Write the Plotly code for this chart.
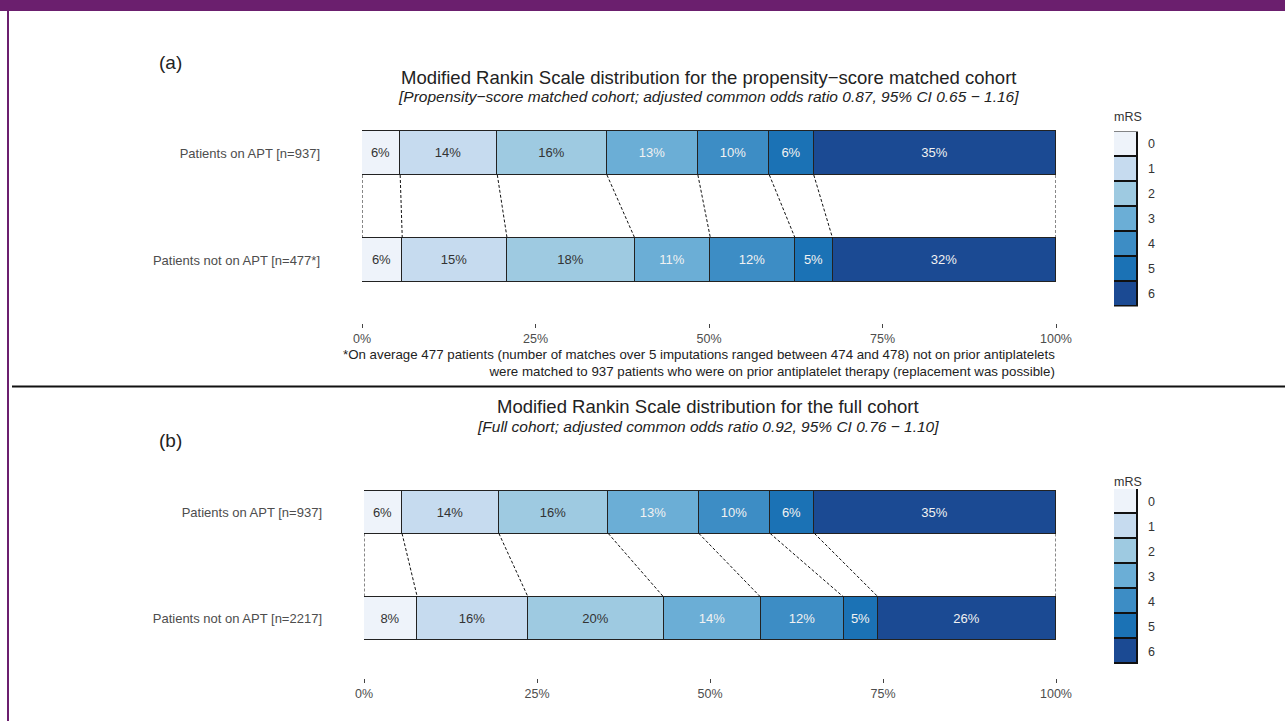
import plotly.graph_objects as go

# ---------------- data ----------------
mrs_levels = ["0", "1", "2", "3", "4", "5", "6"]
colors = ["#EEF3FA", "#C6DBEF", "#9ECAE1", "#6BAED6", "#3D8DC5", "#1B72B5", "#1B4A93"]
text_colors = ["#333333", "#333333", "#333333", "#F2F2F2", "#F2F2F2", "#F2F2F2", "#F2F2F2"]

# panel (a): propensity-score matched cohort (percent per mRS level)
a_on_apt = [5.5, 14.0, 15.8, 13.1, 10.3, 6.4, 34.9]
a_not_apt = [5.8, 15.1, 18.4, 10.9, 12.2, 5.4, 32.2]
a_labels = ["Patients on APT [n=937]", "Patients not on APT [n=477*]"]

# panel (b): full cohort
b_on_apt = [5.5, 14.0, 15.8, 13.1, 10.3, 6.4, 34.9]
b_not_apt = [7.7, 16.0, 19.6, 14.0, 12.0, 5.0, 25.7]
b_labels = ["Patients on APT [n=937]", "Patients not on APT [n=2217]"]

x_tickvals = [0, 25, 50, 75, 100]
x_ticktext = ["0%", "25%", "50%", "75%", "100%"]

title_a = "Modified Rankin Scale distribution for the propensity\u2212score matched cohort"
sub_a = "[Propensity\u2212score matched cohort; adjusted common odds ratio 0.87, 95% CI 0.65 \u2212 1.16]"
title_b = "Modified Rankin Scale distribution for the full cohort"
sub_b = "[Full cohort; adjusted common odds ratio 0.92, 95% CI 0.76 \u2212 1.10]"
footnote = ("*On average 477 patients (number of matches over 5 imputations ranged between 474 and 478) not on prior antiplatelets<br>"
            "were matched to 937 patients who were on prior antiplatelet therapy (replacement was possible)")

# ---------------- layout helpers ----------------
W, H = 1285, 721
FONT = "Liberation Sans, Arial, Helvetica, sans-serif"


def fx(px):
    return px / W


def fy(py):
    return 1 - py / H


fig = go.Figure()


def add_panel(top_vals, bot_vals, xa, ya, bar_w):
    for k in range(len(mrs_levels)):
        tv, bv = top_vals[k], bot_vals[k]
        fig.add_trace(go.Bar(
            x=[tv, bv], y=[1, 0], orientation="h", width=bar_w,
            xaxis=xa, yaxis=ya,
            marker=dict(color=colors[k], line=dict(color="#222222", width=1)),
            text=[f"{int(tv + 0.5)}%", f"{int(bv + 0.5)}%"],
            textposition="inside", insidetextanchor="middle",
            textfont=dict(color=text_colors[k], size=13, family=FONT),
            constraintext="none",
            showlegend=False, hoverinfo="skip",
        ))
    # connector lines between cumulative boundaries
    cx, cy = [], []
    ct, cb = 0.0, 0.0
    bounds_t, bounds_b = [0.0], [0.0]
    for k in range(len(mrs_levels)):
        ct += top_vals[k]
        cb += bot_vals[k]
        bounds_t.append(ct)
        bounds_b.append(cb)
    for t, b in zip(bounds_t, bounds_b):
        cx += [t, b, None]
        cy += [1 - bar_w / 2, bar_w / 2, None]
    fig.add_trace(go.Scatter(
        x=cx, y=cy, mode="lines", xaxis=xa, yaxis=ya,
        line=dict(color="#111111", width=1, dash="3px,2px"),
        showlegend=False, hoverinfo="skip",
    ))


def add_legend(xa, ya):
    for k in range(len(mrs_levels)):
        fig.add_trace(go.Bar(
            x=[0], y=[1], width=1, xaxis=xa, yaxis=ya,
            marker=dict(color=colors[k], line=dict(color="#111111", width=1.6)),
            showlegend=False, hoverinfo="skip",
        ))


add_panel(a_on_apt, a_not_apt, "x", "y", 44 / 107)
add_panel(b_on_apt, b_not_apt, "x2", "y2", 43 / 106.5)
add_legend("x3", "y3")
add_legend("x4", "y4")

xaxis_common = dict(
    range=[0, 100], tickvals=x_tickvals, ticktext=x_ticktext,
    ticks="outside", ticklen=4, tickcolor="#444444", tickwidth=1,
    tickfont=dict(size=12.5, color="#4D4D4D", family=FONT),
    showgrid=False, zeroline=False, showline=False, fixedrange=True, automargin=False,
)
yaxis_common = dict(
    tickvals=[1, 0], ticks="", showgrid=False, zeroline=False, showline=False,
    tickfont=dict(size=13, color="#4D4D4D", family=FONT), ticklabelstandoff=41,
    automargin=False,
)
leg_x = dict(range=[-0.5, 0.5], showticklabels=False, showgrid=False, zeroline=False,
             showline=False, ticks="", automargin=False)
leg_y = dict(range=[7, 0], tickvals=[0.5 + i for i in range(7)], ticktext=mrs_levels,
             side="right", ticks="", showgrid=False, zeroline=False, showline=False,
             tickfont=dict(size=12.5, color="#333333", family=FONT), ticklabelstandoff=9,
             automargin=False)

fig.update_layout(
    width=W, height=H, margin=dict(l=0, r=0, t=0, b=0, pad=0), autosize=False,
    paper_bgcolor="white", plot_bgcolor="white",
    barmode="stack", bargap=0,
    font=dict(family=FONT, color="#222222"),
    xaxis=dict(domain=[fx(362), fx(1056)], anchor="y", **xaxis_common),
    yaxis=dict(domain=[fy(323), fy(110)], anchor="x",
               range=[-(323 - 260) / 107, 1 + (153 - 110) / 107],
               ticktext=a_labels, **yaxis_common),
    xaxis2=dict(domain=[fx(364), fx(1056)], anchor="y2", **xaxis_common),
    yaxis2=dict(domain=[fy(678), fy(470)], anchor="x2",
                range=[-(678 - 618.5) / 106.5, 1 + (512 - 470) / 106.5],
                ticktext=b_labels, **yaxis_common),
    xaxis3=dict(domain=[fx(1114), fx(1138)], anchor="y3", **leg_x),
    yaxis3=dict(domain=[fy(306.5), fy(131.5)], anchor="x3", **leg_y),
    xaxis4=dict(domain=[fx(1114), fx(1138)], anchor="y4", **leg_x),
    yaxis4=dict(domain=[fy(664), fy(489)], anchor="x4", **leg_y),
)

ann = []


def text(px, py, s, size, xanchor="center", italic=False, color="#222222"):
    ann.append(dict(
        x=fx(px), y=fy(py), xref="paper", yref="paper", text=s, showarrow=False,
        xanchor=xanchor, yanchor="middle", align="right" if xanchor == "right" else "left",
        font=dict(size=size, color=color, family=FONT,
                  style="italic" if italic else "normal"),
    ))


text(170, 63, "(a)", 19)
text(708, 78, title_a, 18.5)
text(708, 97, sub_a, 15.5, italic=True)
text(1057, 363, footnote, 13.3, xanchor="right")
text(1112, 117, "mRS", 12.5, xanchor="left", color="#333333")

text(170, 441, "(b)", 19)
text(708, 406, title_b, 18.5)
text(708, 427, sub_b, 15.5, italic=True)
text(1112, 482, "mRS", 12.5, xanchor="left", color="#333333")

fig.update_layout(annotations=ann)

# frame decorations
fig.update_layout(shapes=[
    dict(type="rect", xref="paper", yref="paper", x0=0, x1=1, y0=fy(11), y1=1,
         fillcolor="#6B1F6E", line=dict(width=0)),
    dict(type="rect", xref="paper", yref="paper", x0=fx(7), x1=fx(9), y0=0, y1=1,
         fillcolor="#6B1F6E", line=dict(width=0)),
    dict(type="line", xref="paper", yref="paper", x0=fx(12), x1=1, y0=fy(386.5), y1=fy(386.5),
         line=dict(color="#111111", width=2)),
])

fig.write_html("out.html",
               config=dict(displayModeBar=False, responsive=False),
               post_script="document.body.style.margin='0';document.body.style.overflow='hidden';")
